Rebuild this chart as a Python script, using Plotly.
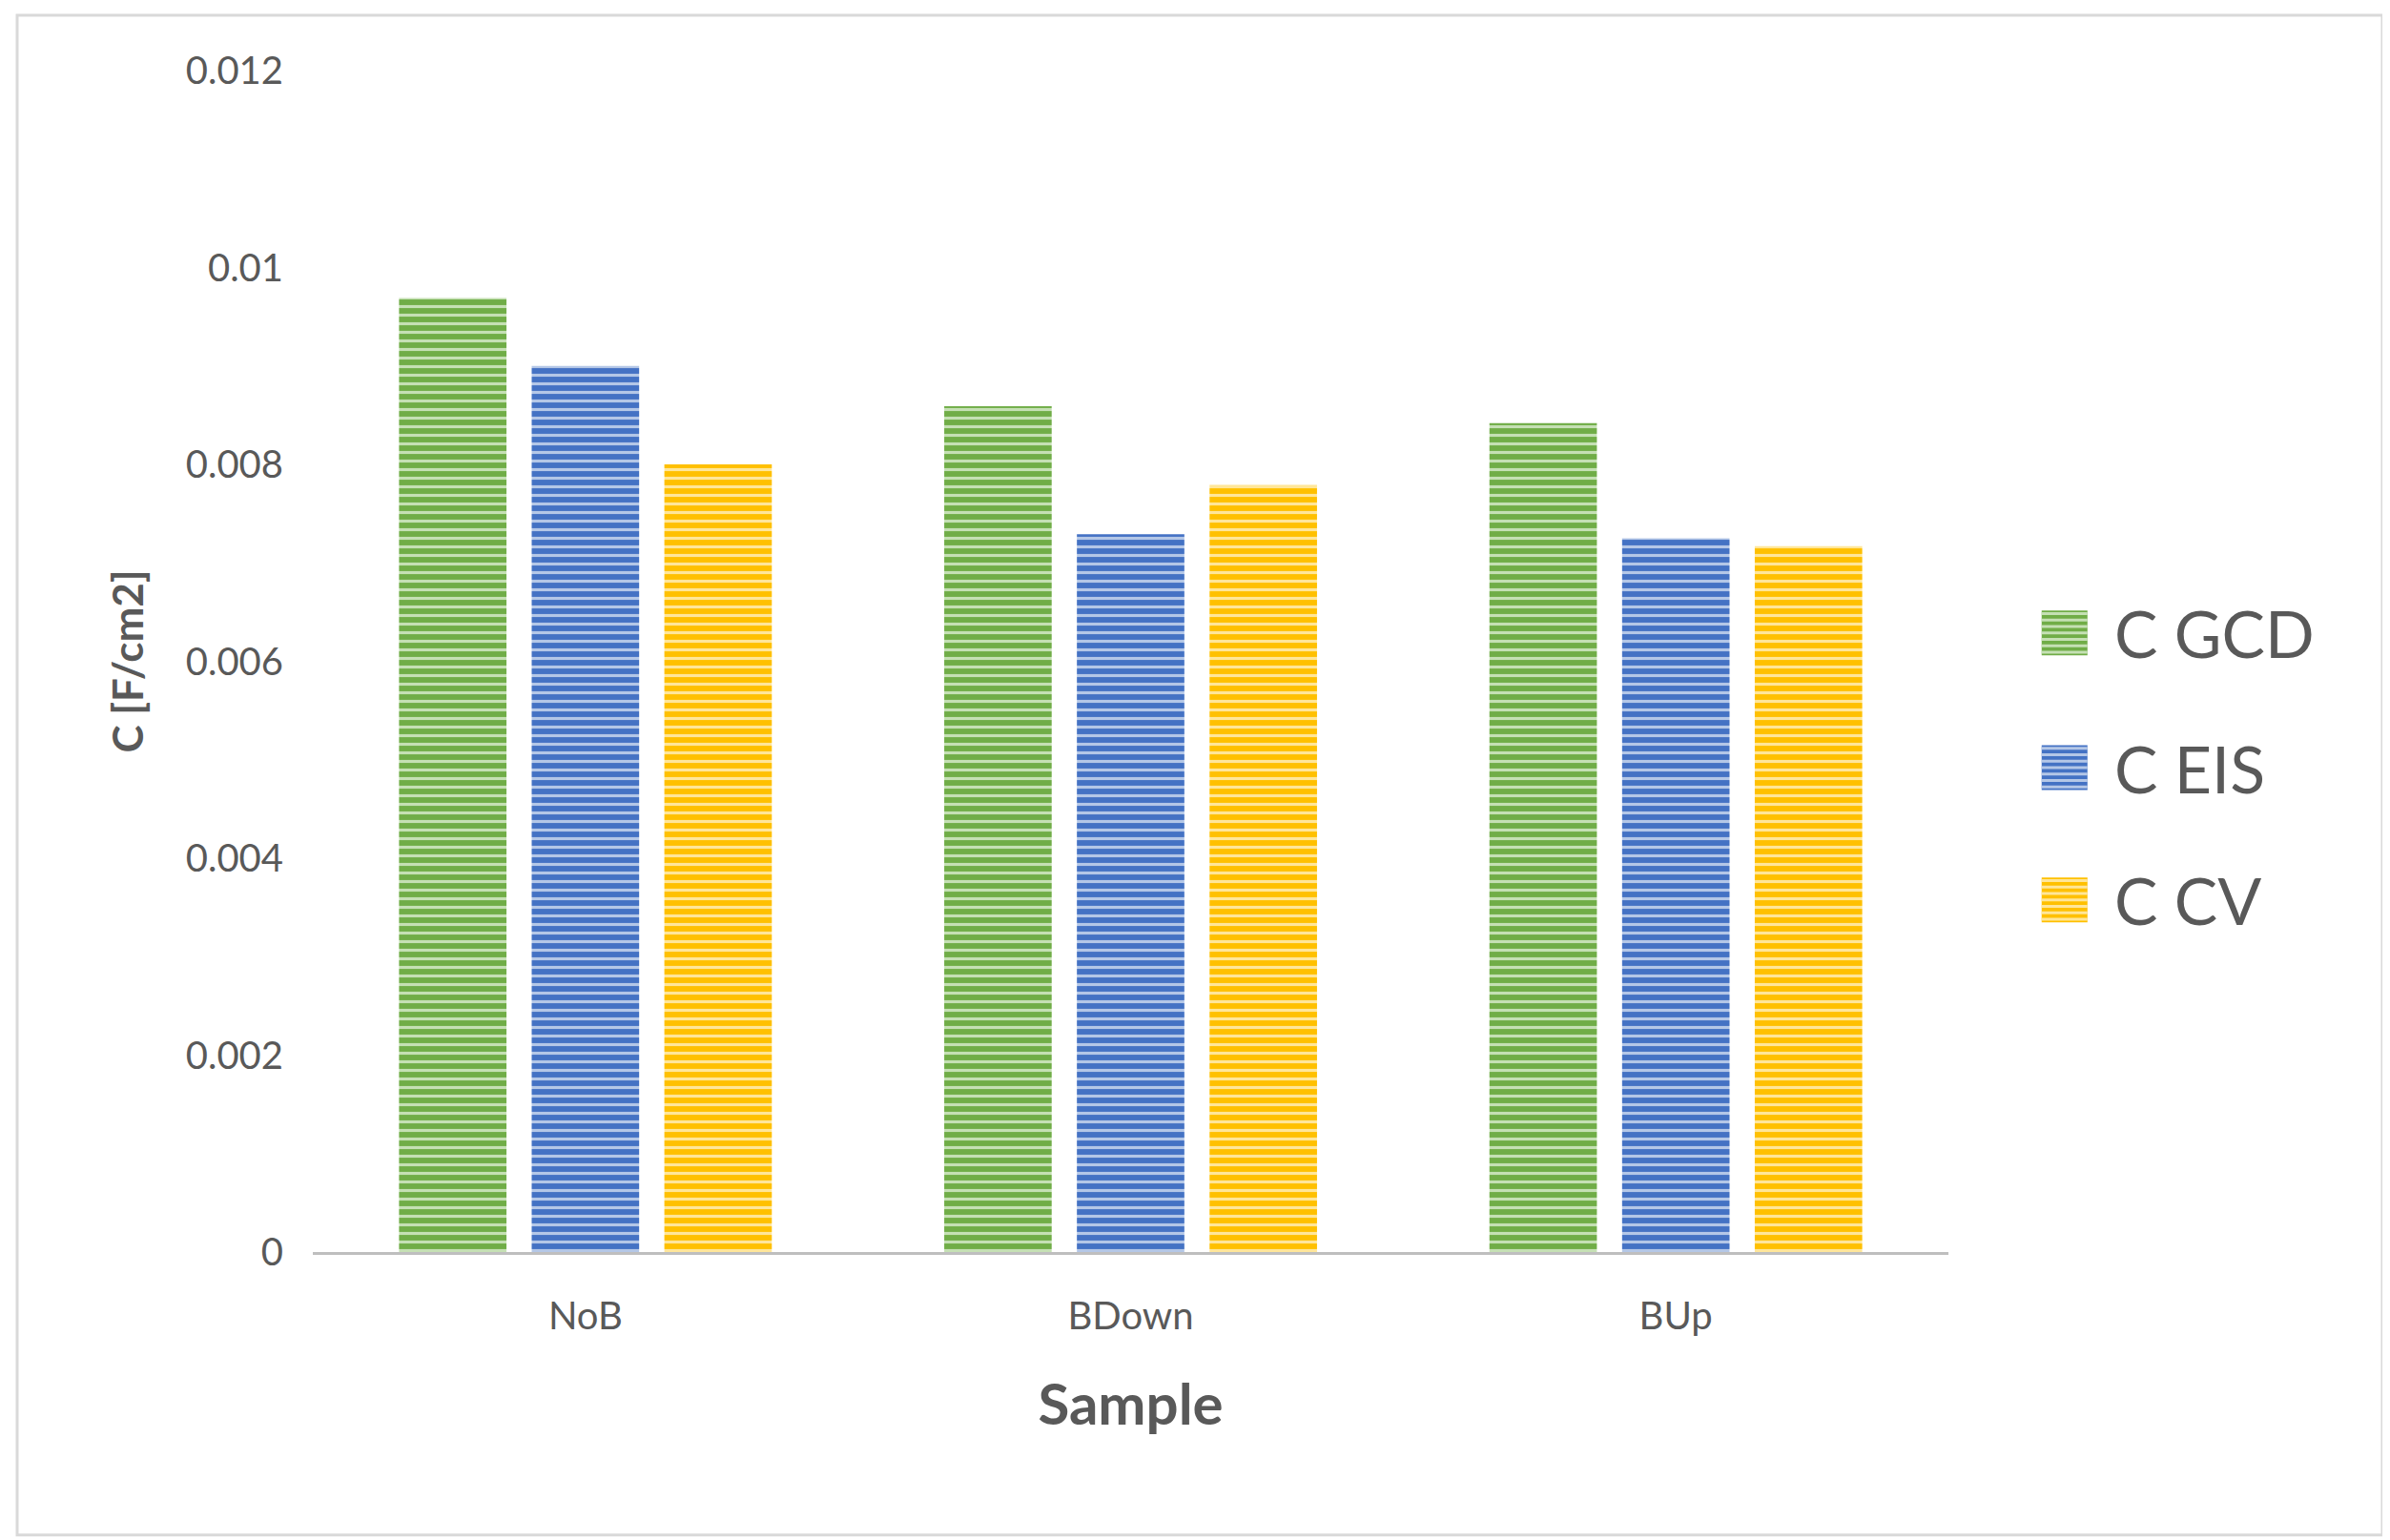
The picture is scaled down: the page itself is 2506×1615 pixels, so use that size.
import plotly.graph_objects as go

categories = ["NoB", "BDown", "BUp"]
c_gcd = [0.00969, 0.00859, 0.00842]
c_eis = [0.00900, 0.00729, 0.00725]
c_cv = [0.00800, 0.00779, 0.00717]
series_names = ["C GCD", "C EIS", "C CV"]
y_ticks = [0, 0.002, 0.004, 0.006, 0.008, 0.01, 0.012]
y_tick_labels = ["0", "0.002", "0.004", "0.006", "0.008", "0.01", "0.012"]

base = ["#70AD47", "#4472C4", "#FFC000"]
light = ["#C5E0B4", "#B4C7E7", "#FFE699"]
FONT = "Lato"
GRAY = "#595959"

fig = go.Figure()
for name, vals, b, l in zip(series_names, [c_gcd, c_eis, c_cv], base, light):
    fig.add_trace(go.Bar(
        x=categories, y=vals, name=name, showlegend=False,
        marker=dict(color=b, line=dict(width=0),
                    pattern=dict(shape="-", fgcolor=l, bgcolor=b, size=9,
                                 solidity=0.35, fillmode="replace")),
    ))

shapes = [dict(type="rect", xref="paper", yref="paper",
               x0=-310/1715, x1=1+455/1715, y0=-297/1240, y1=1+58/1240,
               line=dict(color="#D9D9D9", width=3))]
annotations = []
leg_y = [0.524, 0.410, 0.298]
for name, b, l, yc in zip(series_names, base, light, leg_y):
    x0, x1 = 1.057, 1.085
    y0, y1 = yc - 0.019, yc + 0.019
    shapes.append(dict(type="rect", xref="paper", yref="paper", x0=x0, x1=x1,
                       y0=y0, y1=y1, fillcolor=b, line=dict(width=0)))
    n = 7
    for i in range(n):
        yy = y0 + (i + 0.5) * (y1 - y0) / n
        shapes.append(dict(type="line", xref="paper", yref="paper", x0=x0, x1=x1,
                           y0=yy, y1=yy, line=dict(color=l, width=3)))
    annotations.append(dict(xref="paper", yref="paper", x=1.1, y=yc, text=name,
                            showarrow=False, xanchor="left", yanchor="middle",
                            font=dict(size=68, color=GRAY, family=FONT)))

fig.update_layout(
    width=2506, height=1615,
    paper_bgcolor="white", plot_bgcolor="white",
    margin=dict(l=320, r=471, t=66, b=310),
    barmode="group", bargap=0.27, bargroupgap=0.19,
    font=dict(family=FONT, color=GRAY),
    showlegend=False,
    shapes=shapes, annotations=annotations,
)
fig.update_xaxes(showgrid=False, showline=True, linecolor="#BFBFBF", linewidth=3,
                 ticks="", tickfont=dict(size=40, color=GRAY), ticklabelstandoff=30,
                 title=dict(text="<b>Sample</b>", font=dict(size=60, color=GRAY), standoff=50))
fig.update_yaxes(range=[0, 0.012], tickvals=y_ticks, ticktext=y_tick_labels,
                 showgrid=False, zeroline=False, showline=False,
                 tickfont=dict(size=40, color=GRAY), ticklabelstandoff=30,
                 title=dict(text="<b>C [F/cm2]</b>", font=dict(size=44, color=GRAY), standoff=30))

fig.write_html("out.html")
